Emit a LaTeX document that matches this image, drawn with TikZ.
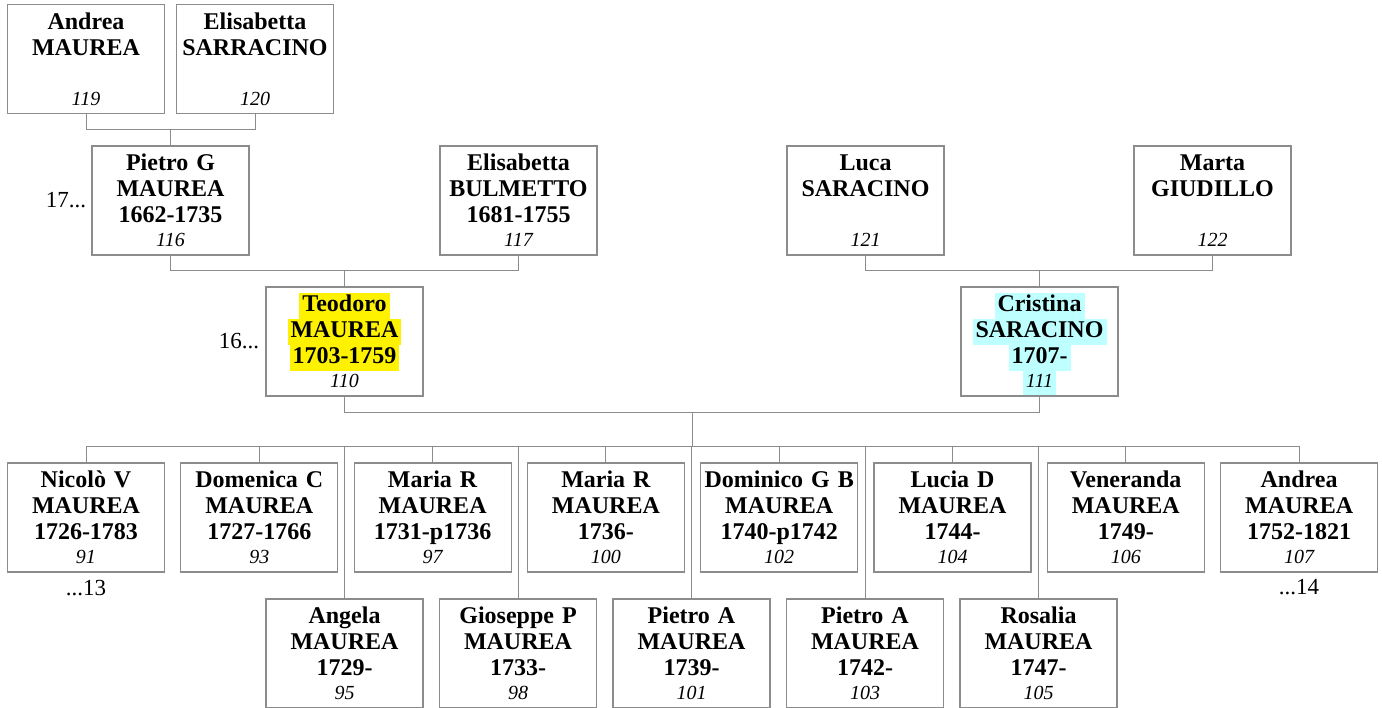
\documentclass[tikz,border=0pt]{standalone}
\usepackage{fontspec}
\setmainfont{Liberation Serif}
\usetikzlibrary{positioning,calc}
\definecolor{linegray}{RGB}{140,140,140}
\definecolor{hlcyan}{RGB}{190,255,255}
\setlength{\fboxsep}{0pt}
\newcommand{\idx}[1]{{\fontsize{20}{26}\selectfont\mdseries\itshape #1}}
\newcommand{\hl}[2]{\raisebox{0pt}[17pt][0pt]{\colorbox{#1}{\hspace{3pt}\rule[-7pt]{0pt}{26pt}#2\hspace{3pt}}}}
\begin{document}
\begin{tikzpicture}[x=1pt, y=-1pt, node distance=15.1pt,
    person/.style={draw=linegray, line width=1.2pt, fill=white, inner sep=0pt, text width=157pt, minimum width=157pt, minimum height=109pt, align=center, font=\fontsize{24}{26}\selectfont\bfseries},
    tag/.style={inner sep=0pt, font=\fontsize{23}{26}\selectfont},
    link/.style={draw=linegray, line width=1pt}]
    \useasboundingbox (0,0) rectangle (1382,708);

    % grandparents and parents
    \node (a119) [person] at (86,59) {Andrea\\MAUREA\\\mbox{}\\[-2pt]\idx{119}};
    \node (a120) [person] at (255,59) {Elisabetta\\SARRACINO\\\mbox{}\\[-2pt]\idx{120}};
    \node (a116) [person] at (170.5,200.5) {Pietro G\\MAUREA\\1662-1735\\[-2pt]\idx{116}};
    \node (a117) [person] at (518.5,200.5) {Elisabetta\\BULMETTO\\1681-1755\\[-2pt]\idx{117}};
    \node (a121) [person] at (865.5,200.5) {Luca\\SARACINO\\\mbox{}\\[-2pt]\idx{121}};
    \node (a122) [person] at (1212.5,200.5) {Marta\\GIUDILLO\\\mbox{}\\[-2pt]\idx{122}};
    \node (a110) [person] at (344.5,341.5) {\hl{yellow}{Teodoro}\\\hl{yellow}{MAUREA}\\\hl{yellow}{1703-1759}\\[-2pt]\idx{110}};
    \node (a111) [person] at (1039.5,341.5) {\hl{hlcyan}{Cristina}\\\hl{hlcyan}{SARACINO}\\\hl{hlcyan}{1707-}\\[-2pt]\hl{hlcyan}{\idx{111}}};

    % children
    \node (a91) [person] at (86,517.5) {Nicolò V\\MAUREA\\1726-1783\\[-2pt]\idx{91}};
    \node (a93) [person, right=of a91] {Domenica C\\MAUREA\\1727-1766\\[-2pt]\idx{93}};
    \node (a97) [person, right=of a93] {Maria R\\MAUREA\\1731-p1736\\[-2pt]\idx{97}};
    \node (a100) [person, right=of a97] {Maria R\\MAUREA\\1736-\\[-2pt]\idx{100}};
    \node (a102) [person, right=of a100] {Dominico G B\\MAUREA\\1740-p1742\\[-2pt]\idx{102}};
    \node (a104) [person, right=of a102] {Lucia D\\MAUREA\\1744-\\[-2pt]\idx{104}};
    \node (a106) [person, right=of a104] {Veneranda\\MAUREA\\1749-\\[-2pt]\idx{106}};
    \node (a107) [person, right=of a106] {Andrea\\MAUREA\\1752-1821\\[-2pt]\idx{107}};
    \node (a95) [person] at (344.5,653.5) {Angela\\MAUREA\\1729-\\[-2pt]\idx{95}};
    \node (a98) [person, right=15.3pt of a95] {Gioseppe P\\MAUREA\\1733-\\[-2pt]\idx{98}};
    \node (a101) [person, right=15.3pt of a98] {Pietro A\\MAUREA\\1739-\\[-2pt]\idx{101}};
    \node (a103) [person, right=15.3pt of a101] {Pietro A\\MAUREA\\1742-\\[-2pt]\idx{103}};
    \node (a105) [person, right=15.3pt of a103] {Rosalia\\MAUREA\\1747-\\[-2pt]\idx{105}};

    % generation marks
    \node (gen17) [tag, left=5pt of a116] {17...};
    \node (gen16) [tag, left=6pt of a110] {16...};
    \node (more13) [tag, below=7pt of a91] {...13};
    \node (more14) [tag, below=7pt of a107] {...14};

    % family lines
    \coordinate [above=16pt of a116] (g116);
    \coordinate [above=16pt of a110] (g110);
    \coordinate [above=16pt of a111] (g111);
    \coordinate (fam) at ($(a110.south)!0.5!(a111.south)+(0,16)$);
    \coordinate [below=34pt of fam] (kids);
    \draw [link] (a119.south) |- (g116) -| (a120.south);
    \draw [link] (g116) -- (a116);
    \draw [link] (a116.south) |- (g110) -| (a117.south);
    \draw [link] (g110) -- (a110);
    \draw [link] (a121.south) |- (g111) -| (a122.south);
    \draw [link] (g111) -- (a111);
    \draw [link] (a110.south) |- (fam) -| (a111.south);
    \draw [link] (fam) -- (kids);
    \foreach \k in {a91,a93,a97,a100,a102,a104,a106,a107,a95,a98,a101,a103,a105}
        \draw [link] (kids) -| (\k.north);
\end{tikzpicture}
\end{document}
